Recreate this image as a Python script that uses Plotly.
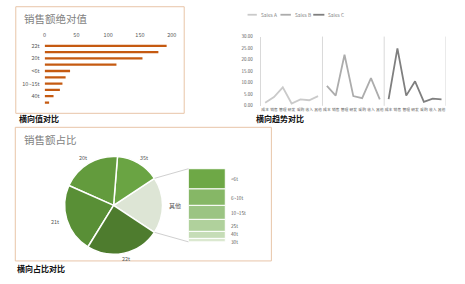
import numpy as np
import plotly.graph_objects as go

W, H = 465, 284
FONT = "Noto Sans CJK SC"

# ---------------- data ----------------
# panel 1: horizontal bars (sorted, descending)
bar_cats = ["22t", "21t", "20t", "35t", "<6t", "6~10t", "10~15t", "25t", "40t", "30t"]
bar_vals = [192, 179, 154, 113, 40, 33, 28, 24, 14, 7]
bar_ticks = [0, 50, 100, 150, 200]

# panel 2: three series, each in its own block of categories
line_cats = ["成本", "销售", "管理", "研发", "采购", "收入", "其他"]
sales_a = [1.3, 3.8, 8.0, 1.0, 2.8, 2.4, 4.2]
sales_b = [8.6, 4.4, 22.1, 4.2, 3.3, 12.0, 2.8]
sales_c = [2.9, 24.9, 4.4, 10.6, 1.7, 3.1, 2.8]
series_names = ["Sales A", "Sales B", "Sales C"]
series_colors = ["#cacaca", "#acacac", "#7f7f7f"]

# panel 3: pie of pie
main_labels = ["35t", "20t", "21t", "22t"]
main_vals = [113, 154, 179, 192]
main_colors = ["#6aa443", "#639b3d", "#598f36", "#4e7c2e"]
other_name = "其他"
other_color = "#dde5d5"
other_labels = ["<6t", "6~10t", "10~15t", "25t", "40t", "30t"]
other_vals = [40, 33, 28, 24, 14, 7]
other_colors = ["#6ea846", "#86b766", "#9bc483", "#b0d19c", "#c6ddb7", "#dbe8d0"]


def px(x):
    return x / W


def py(y):
    return 1 - y / H


fig = go.Figure()
shapes = []
annotations = []
border_col = "#e8c5a8"
grey_txt = "#595959"

# ---------------- panel 1 ----------------
fig.add_trace(go.Bar(
    x=bar_vals, y=bar_cats, orientation="h", width=0.36,
    marker=dict(color="#c55a11", line=dict(width=0)),
    xaxis="x", yaxis="y", showlegend=False, hoverinfo="x+y"))

shapes.append(dict(type="rect", xref="paper", yref="paper",
                   x0=px(14), x1=px(185), y0=py(112.7), y1=py(3.8),
                   line=dict(color=border_col, width=1)))
annotations.append(dict(text="销售额绝对值", xref="paper", yref="paper",
                        x=px(20), y=py(15.7), xanchor="left", yanchor="middle",
                        showarrow=False, font=dict(size=10.5, color="#7f7f7f", family=FONT)))

# ---------------- panel 2 ----------------
n = len(line_cats)
all_series = [sales_a, sales_b, sales_c]
for i, (name, vals, col) in enumerate(zip(series_names, all_series, series_colors)):
    xs = list(range(i * n, (i + 1) * n))
    fig.add_trace(go.Scatter(x=xs, y=vals, mode="lines", name=name,
                             line=dict(color=col, width=1.8),
                             xaxis="x2", yaxis="y2", showlegend=False))
    # separator at right edge of each block
    shapes.append(dict(type="line", xref="x2", yref="y2 domain",
                       x0=(i + 1) * n - 0.5, x1=(i + 1) * n - 0.5, y0=0, y1=1,
                       line=dict(color="#d9d9d9", width=1)))

# manual legend
leg_x = [(249.3, 258.7, 260.7), (282.7, 293.3, 295.3), (316.0, 327.3, 328.7)]
for (x0, x1, xt), name, col in zip(leg_x, series_names, series_colors):
    shapes.append(dict(type="line", xref="paper", yref="paper",
                       x0=px(x0), x1=px(x1), y0=py(12), y1=py(12),
                       line=dict(color=col, width=1.8)))
    annotations.append(dict(text=name, xref="paper", yref="paper", x=px(xt), y=py(12),
                            xanchor="left", yanchor="middle", showarrow=False,
                            font=dict(size=4.8, color="#7f7f7f", family=FONT)))

# ---------------- panel 3 ----------------
pie_vals = [sum(other_vals)] + main_vals
pie_labels = [other_name] + main_labels
pie_colors = [other_color] + main_colors
total = sum(pie_vals)
other_deg = sum(other_vals) / total * 360
# plotly (counterclockwise): first slice spans clockwise angles [rotation, rotation + its size]
rotation = 90 - other_deg / 2

pie_x0, pie_x1 = 63.3, 163.3
pie_y0, pie_y1 = 156.7, 256.7
fig.add_trace(go.Pie(values=pie_vals, labels=pie_labels, sort=False,
                     direction="counterclockwise", rotation=rotation,
                     marker=dict(colors=pie_colors, line=dict(color="white", width=1.5)),
                     textinfo="none", showlegend=False,
                     domain=dict(x=[px(pie_x0), px(pie_x1)], y=[py(pie_y1), py(pie_y0)])))

cx, cy = (pie_x0 + pie_x1) / 2, (pie_y0 + pie_y1) / 2
r = (pie_x1 - pie_x0) / 2

# labels of main slices
start = other_deg / 2
for lab, v in zip(main_labels, main_vals):
    span = v / total * 360
    mid = np.deg2rad(start + span / 2)
    start += span
    c, s = np.cos(mid), np.sin(mid)
    lx = cx + (r + 8 + 4 * abs(c)) * c
    ly = cy - (r + 6) * s
    annotations.append(dict(text=lab, xref="paper", yref="paper", x=px(lx), y=py(ly),
                            xanchor="center", yanchor="middle", showarrow=False,
                            font=dict(size=5.5, color=grey_txt, family=FONT)))
annotations.append(dict(text=other_name, xref="paper", yref="paper", x=px(cx + r + 12), y=py(cy),
                        xanchor="center", yanchor="middle", showarrow=False,
                        font=dict(size=6, color=grey_txt, family=FONT)))

# stacked bar of "other"
st_x0, st_x1 = 189.3, 226.7
st_y0, st_y1 = 169.3, 244.0
label_nudge = {"40t": 1.2, "30t": -1.5}  # small label offsets (px) to keep tiny labels apart
cum = 0
for lab, v, col in zip(other_labels[::-1], other_vals[::-1], other_colors[::-1]):
    fig.add_trace(go.Bar(x=[0], y=[v], base=[cum], width=1, name=lab,
                         marker=dict(color=col, line=dict(color="white", width=1)),
                         xaxis="x3", yaxis="y3", showlegend=False))
    annotations.append(dict(text=lab, xref="x3", yref="y3", x=0.5, y=cum + v / 2,
                            xanchor="left", yanchor="middle", xshift=4,
                            yshift=label_nudge.get(lab, -0.5),
                            showarrow=False,
                            font=dict(size=4.7, color=grey_txt, family=FONT)))
    cum += v

# connector lines
half = np.deg2rad(other_deg / 2)
for sgn, sy in ((1, st_y0), (-1, st_y1)):
    ex = cx + r * np.cos(half)
    ey = cy - sgn * r * np.sin(half)
    shapes.append(dict(type="line", xref="paper", yref="paper",
                       x0=px(ex), y0=py(ey), x1=px(st_x0), y1=py(sy),
                       line=dict(color="#d0d0d0", width=1)))

shapes.append(dict(type="rect", xref="paper", yref="paper",
                   x0=px(13.5), x1=px(273.5), y0=py(263.5), y1=py(127),
                   line=dict(color=border_col, width=1)))
annotations.append(dict(text="销售额占比", xref="paper", yref="paper",
                        x=px(20), y=py(139), xanchor="left", yanchor="middle",
                        showarrow=False, font=dict(size=10.5, color="#7f7f7f", family=FONT)))

# captions
for txt, x, y in (("横向值对比", 15.5, 118.5), ("横向趋势对比", 255.5, 118.5), ("横向占比对比", 13, 271)):
    annotations.append(dict(text="<b>" + txt + "</b>", xref="paper", yref="paper",
                            x=px(x), y=py(y), xanchor="left", yanchor="middle",
                            showarrow=False, font=dict(size=8, color="#111111", family=FONT)))

fig.update_layout(
    width=W, height=H, margin=dict(l=0, r=0, t=0, b=0),
    paper_bgcolor="white", plot_bgcolor="white",
    font=dict(family=FONT, color=grey_txt),
    barmode="overlay",
    xaxis=dict(domain=[px(43.3), px(172.3)], range=[0, 200], side="top", anchor="y",
               tickvals=bar_ticks, showgrid=False, zeroline=False, showline=False, ticks="",
               tickfont=dict(size=5.5, color=grey_txt), fixedrange=True, ticklabelstandoff=4),
    yaxis=dict(domain=[py(104.9), py(40.5)], type="category", categoryorder="array",
               categoryarray=bar_cats, autorange="reversed", anchor="x",
               tickvals=bar_cats[::2], ticktext=bar_cats[::2],
               showgrid=False, zeroline=False, showline=False, ticks="",
               tickfont=dict(size=5.5, color=grey_txt), ticklabelstandoff=4),
    xaxis2=dict(domain=[px(262.7), px(450.7)], range=[-0.5, 3 * n - 0.5], anchor="y2",
                tickvals=list(range(3 * n)), ticktext=line_cats * 3, tickangle=0,
                showgrid=False, zeroline=False, showline=False, ticks="",
                tickfont=dict(size=3.8, color=grey_txt)),
    yaxis2=dict(domain=[py(105), py(34.3)], range=[0, 30], dtick=5, tickformat=".2f",
                anchor="x2", showgrid=False, zeroline=False, showline=True,
                linecolor="#d9d9d9", linewidth=1, ticks="",
                tickfont=dict(size=4.5, color=grey_txt), ticklabelstandoff=6),
    xaxis3=dict(domain=[px(st_x0), px(st_x1)], range=[-0.5, 0.5], anchor="y3", visible=False),
    yaxis3=dict(domain=[py(st_y1), py(st_y0)], range=[0, sum(other_vals)], anchor="x3",
                visible=False),
    shapes=shapes, annotations=annotations,
)

fig.write_html("out.html")
